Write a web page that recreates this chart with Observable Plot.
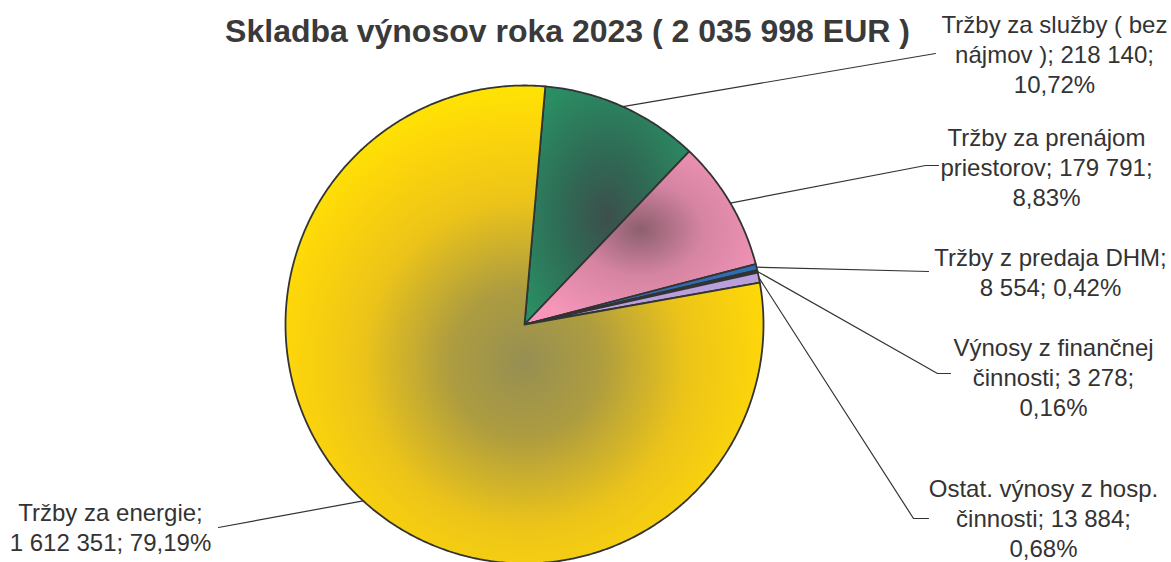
<!DOCTYPE html>
<html><head><meta charset="utf-8">
<script src="https://cdn.jsdelivr.net/npm/d3@7"></script>
<script src="https://cdn.jsdelivr.net/npm/@observablehq/plot@0.6"></script>
<style>body{margin:0;background:#fff}#chart svg{display:block}</style>
</head><body><div id="chart"></div>
<script>
// ---- data ----
const title = "Skladba výnosov roka 2023 ( 2 035 998 EUR )";
const categories = ["Tržby za služby ( bez nájmov )", "Tržby za prenájom priestorov", "Tržby z predaja DHM", "Výnosy z finančnej činnosti", "Ostat. výnosy z hosp. činnosti", "Tržby za energie"];
const values = [218140, 179791, 8554, 3278, 13884, 1612351];
const labels = [
  "Tržby za služby ( bez\nnájmov ); 218 140;\n10,72%",
  "Tržby za prenájom\npriestorov; 179 791;\n8,83%",
  "Tržby z predaja DHM;\n8 554; 0,42%",
  "Výnosy z finančnej\nčinnosti; 3 278;\n0,16%",
  "Ostat. výnosy z hosp.\nčinnosti; 13 884;\n0,68%",
  "Tržby za energie;\n1 612 351; 79,19%"
];
const fills = ["url(#gGreen)", "url(#gPink)", "#2f6eb5", "#2b3535", "#b9a0dc", "url(#gYellow)"];

// ---- layout ----
const W = 1171, H = 562, CX = 524, CY = 324, R = 239;
const startDeg = 5;
const titlePos = [567, 31];
const labelPos = [[1054, 53], [1046, 166], [1050, 271], [1053, 376], [1043, 517], [110, 526]];
const leaderBends = [[[935, 53]], [[925, 165], [938, 165]], [[928, 271]], [[937, 373], [950, 373]], [[913, 518], [928, 518]], [[218, 527]]];
const ux = px => (px - CX) / R, uy = py => (CY - py) / R;

// ---- geometry from data ----
const a0 = startDeg * Math.PI / 180;
const arcs = d3.pie().sort(null).startAngle(a0).endAngle(a0 + 2 * Math.PI)(values);
const slicePts = [];
arcs.forEach((a, i) => {
  const n = Math.max(2, Math.ceil((a.endAngle - a.startAngle) / (Math.PI / 360)));
  slicePts.push({i, x: 0, y: 0});
  for (let k = 0; k <= n; k++) {
    const t = a.startAngle + (a.endAngle - a.startAngle) * k / n;
    slicePts.push({i, x: Math.sin(t), y: Math.cos(t)});
  }
  slicePts.push({i, x: 0, y: 0});
});
const leaderPts = [];
arcs.forEach((a, i) => {
  const m = (a.startAngle + a.endAngle) / 2;
  leaderPts.push({i, x: Math.sin(m), y: Math.cos(m)});
  leaderBends[i].forEach(([px, py]) => leaderPts.push({i, x: ux(px), y: uy(py)}));
});
const labelData = labels.map((t, i) => ({t, x: ux(labelPos[i][0]), y: uy(labelPos[i][1])}));

const defs = () => {
  const d = document.createElementNS("http://www.w3.org/2000/svg", "defs");
  d.innerHTML = `
  <radialGradient id="gGreen" cx="0.5" cy="0.55" r="0.6">
    <stop offset="0" stop-color="#3c4f4b"/><stop offset="0.45" stop-color="#2f6a55"/><stop offset="1" stop-color="#2a8d63"/>
  </radialGradient>
  <radialGradient id="gPink" cx="0.5" cy="0.45" r="0.6">
    <stop offset="0" stop-color="#8c5f6e"/><stop offset="0.45" stop-color="#d584a2"/><stop offset="1" stop-color="#f796ba"/>
  </radialGradient>
  <radialGradient id="gYellow" cx="0.5" cy="0.58" r="0.62">
    <stop offset="0" stop-color="#968f52"/><stop offset="0.25" stop-color="#ad9c40"/><stop offset="0.55" stop-color="#ecc419"/><stop offset="0.8" stop-color="#fdd60a"/><stop offset="1" stop-color="#ffea00"/>
  </radialGradient>`;
  return d;
};

const font = "'Liberation Sans', Arial, sans-serif";
const chart = Plot.plot({
  width: W, height: H, margin: 0,
  x: {domain: [ux(0), ux(W)], range: [0, W], axis: null},
  y: {domain: [uy(H), uy(0)], range: [H, 0], axis: null},
  color: {type: "identity"},
  style: {background: "#fff", fontFamily: font},
  marks: [
    defs,
    Plot.line(slicePts, {x: "x", y: "y", z: "i", fill: d => fills[d.i], stroke: "#333", strokeWidth: 1.8, strokeLinejoin: "round", curve: "linear"}),
    Plot.line(leaderPts, {x: "x", y: "y", z: "i", stroke: "#333", strokeWidth: 1.2, curve: "linear"}),
    Plot.text(labelData, {x: "x", y: "y", text: "t", textAnchor: "middle", lineAnchor: "middle", lineHeight: 1.25, fontSize: 24, fill: "#333", fontFamily: font}),
    Plot.text([title], {x: ux(titlePos[0]), y: uy(titlePos[1]), text: d => d, textAnchor: "middle", lineAnchor: "middle", fontSize: 32, fontWeight: "bold", fill: "#3a3a3a", fontFamily: font})
  ]
});
document.getElementById("chart").appendChild(chart);
</script>
</body></html>
